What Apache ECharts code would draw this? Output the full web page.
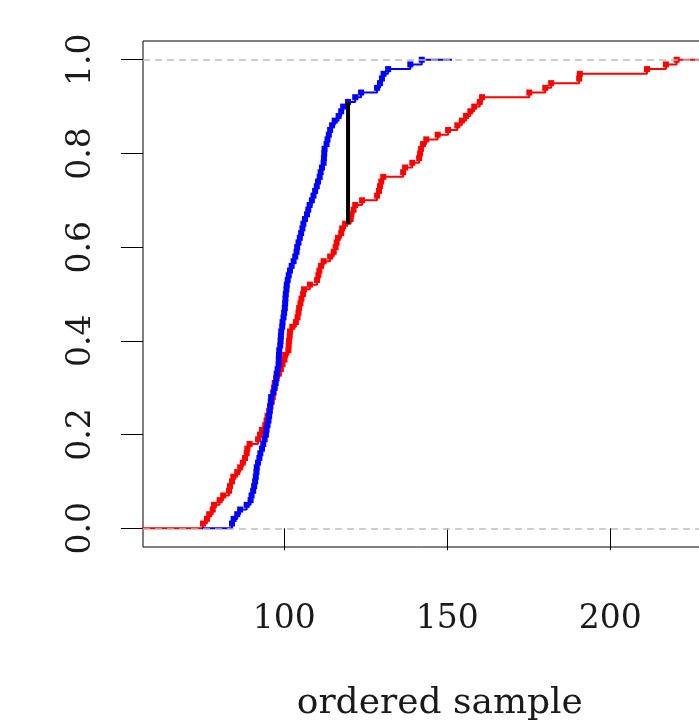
<!DOCTYPE html>
<html>
<head>
<meta charset="utf-8">
<script src="https://cdn.jsdelivr.net/npm/echarts@6/dist/echarts.min.js"></script>
<style>
html,body{margin:0;padding:0;background:#fff;}
#chart{width:699px;height:721px;}
</style>
</head>
<body>
<div id="chart"></div>
<script>
// Sorted samples; ECDF steps are 1/n each
const redSample = [75.1, 76.3, 77.0, 78.1, 78.5, 80.2, 81.3, 83.1, 83.4, 84.0,
  84.4, 85.6, 86.5, 87.3, 88.0, 88.5, 88.7, 89.4, 92.0, 92.6,
  93.2, 94.2, 94.6, 94.9, 95.4, 95.8, 96.2, 96.5, 96.7, 96.9,
  97.1, 97.6, 98.4, 99.0, 99.5, 100.1, 100.3, 101.3, 101.4, 101.5,
  101.7, 101.8, 102.5, 103.6, 104.1, 104.4, 104.6, 105.0, 105.3, 105.8,
  106.1, 107.9, 110.1, 110.5, 110.8, 111.3, 112.1, 114.1, 115.2, 115.8,
  116.1, 116.5, 117.5, 117.8, 118.7, 120.4, 120.6, 121.3, 121.8, 123.9,
  128.5, 129.1, 129.4, 129.8, 130.4, 136.5, 137.1, 139.3, 141.4, 141.7,
  142.0, 142.6, 143.6, 147.1, 150.3, 153.1, 154.5, 155.8, 157.1, 158.3,
  160.0, 160.7, 175.2, 180.1, 181.9, 190.5, 190.7, 211.3, 217.1, 220.4];
const blueSample = [84.0, 84.5, 85.6, 86.5, 88.5, 89.7, 90.0, 90.5, 90.8, 91.1,
  91.3, 91.5, 91.6, 92.0, 92.4, 92.7, 93.2, 93.6, 94.0, 94.4,
  94.6, 94.9, 95.2, 95.4, 95.6, 95.7, 95.9, 96.0, 96.7, 97.1,
  97.4, 97.6, 97.7, 98.0, 98.3, 98.35, 98.4, 98.5, 98.8, 98.9,
  99.0, 99.1, 99.4, 99.5, 99.8, 100.0, 100.2, 100.3, 100.4, 100.5,
  100.7, 100.8, 101.1, 101.4, 101.8, 102.3, 102.9, 103.4, 103.8, 104.0,
  104.4, 104.8, 105.2, 105.6, 105.9, 106.4, 107.0, 107.4, 107.8, 108.5,
  109.0, 109.5, 110.0, 110.4, 110.9, 111.2, 111.6, 112.1, 112.2, 112.3,
  112.4, 113.0, 113.3, 113.7, 114.1, 114.7, 115.5, 116.7, 117.5, 118.1,
  119.6, 121.8, 123.6, 128.5, 129.4, 130.0, 130.5, 131.9, 138.7, 142.2];
// KS distance segment
const ksX = [119.6, 119.6];
const ksY = [0.65, 0.91];
// axes
const xRange = [56.7, 238.8];
const yRange = [-0.04, 1.04];
const xTicks = [100, 150, 200];
const yTicks = [0, 0.2, 0.4, 0.6, 0.8, 1.0];
const refLines = [0, 1];
const xTitle = 'ordered sample';

const PX_PER_UNIT = 3.26;
const FONT = 'DejaVu Serif';

function ecdfData(sample) {
  const n = sample.length;
  const mn = sample[0], mx = sample[n - 1];
  const dr = 0.08 * (mx - mn);
  const data = [{ value: [mn - 2 * dr, 0], symbol: 'none' }];
  sample.forEach((x, i) => data.push({ value: [x, (i + 1) / n] }));
  data.push({ value: [mx + 2 * dr, 1], symbol: 'none' });
  return data;
}

const chart = echarts.init(document.getElementById('chart'), null, { renderer: 'canvas' });
chart.setOption({
  animation: false,
  backgroundColor: '#fff',
  grid: {
    left: 143, top: 41,
    width: (xRange[1] - xRange[0]) * PX_PER_UNIT,
    height: 506,
    outerBoundsMode: 'none',
    containLabel: false,
    show: true, borderColor: '#000', borderWidth: 1, backgroundColor: 'transparent'
  },
  xAxis: {
    type: 'value', min: xRange[0], max: xRange[1],
    axisLine: { show: false },
    splitLine: { show: false },
    axisTick: { show: true, inside: false, length: 22, customValues: xTicks, lineStyle: { color: '#000', width: 1 } },
    axisLabel: { customValues: xTicks, fontFamily: FONT, fontSize: 33, color: '#1a1a1a', margin: 56 },
    name: xTitle, nameLocation: 'middle', nameGap: 139,
    nameTextStyle: { fontFamily: FONT, fontSize: 36, color: '#1a1a1a' }
  },
  yAxis: {
    type: 'value', min: yRange[0], max: yRange[1],
    axisLine: { show: false },
    splitLine: { show: false },
    axisTick: { show: true, inside: false, length: 22, customValues: yTicks, lineStyle: { color: '#000', width: 1 } },
    axisLabel: { customValues: yTicks, rotate: 90, fontFamily: FONT, fontSize: 33, color: '#1a1a1a', margin: 45,
      formatter: v => v.toFixed(1) }
  },
  series: [
    {
      type: 'line', name: 'red', step: 'end', data: ecdfData(redSample),
      symbol: 'rect', symbolSize: 6, showSymbol: true,
      lineStyle: { color: '#ff0000', width: 2 }, itemStyle: { color: '#ff0000' },
      clip: true, z: 3,
      markLine: {
        silent: true, symbol: 'none', label: { show: false },
        lineStyle: { color: '#bdbdbd', type: [7, 5], width: 1.5 },
        data: refLines.map(v => ({ yAxis: v }))
      }
    },
    {
      type: 'line', name: 'blue', step: 'end', data: ecdfData(blueSample),
      symbol: 'rect', symbolSize: 6, showSymbol: true,
      lineStyle: { color: '#0000ff', width: 2 }, itemStyle: { color: '#0000ff' },
      clip: true, z: 4
    },
    {
      type: 'line', name: 'ks', data: ksX.map((x, i) => [x, ksY[i]]),
      symbol: 'none', lineStyle: { color: '#000', width: 4 }, z: 5
    }
  ]
});
</script>
</body>
</html>
